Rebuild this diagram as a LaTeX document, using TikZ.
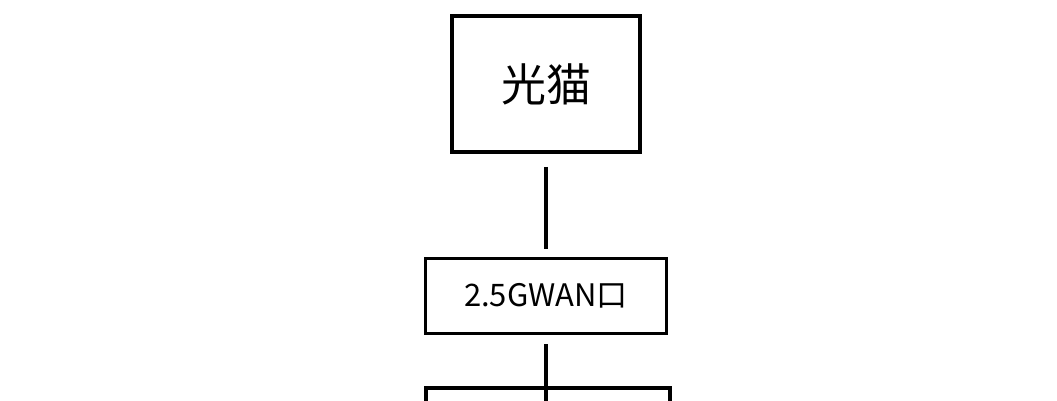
\documentclass[tikz,border=0pt]{standalone}
\usepackage{fontspec}
\setmainfont{Noto Sans CJK SC}
\tikzset{
  box/.style={draw, line width=3.6pt, inner sep=0pt, align=center},
  link/.style={line width=3.2pt}
}
\begin{document}
\begin{tikzpicture}[x=1pt,y=-1pt]
\useasboundingbox (0,0) rectangle (1057,400);
\clip (0,0) rectangle (1057,400);
\node[box, minimum width=188pt, minimum height=136pt, font=\fontsize{45}{50}\selectfont] (modem) at (546,84) {光猫};
\node[box, line width=3pt, minimum width=241pt, minimum height=75pt, font=\fontsize{31}{36}\selectfont] (wan) at (546,296) {2.5GWAN口};
\node[box, line width=3.2pt, minimum width=244pt, minimum height=84pt] (router) at (548,430) {};
\coordinate (bottom) at (546,420);
\draw[link, shorten <=13pt, shorten >=8pt] (modem) -- (wan);
\draw[link, shorten <=9pt] (wan) -- (bottom);
\end{tikzpicture}
\end{document}
